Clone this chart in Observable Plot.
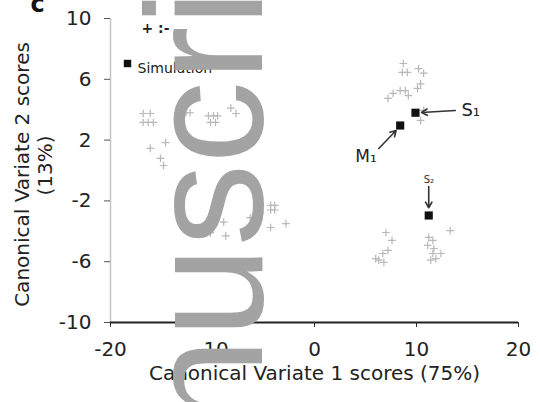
<!DOCTYPE html>
<html>
<head>
<meta charset="utf-8">
<script src="https://cdn.jsdelivr.net/npm/d3@7"></script>
<script src="https://cdn.jsdelivr.net/npm/@observablehq/plot@0.6"></script>
<style>
  html, body { margin: 0; padding: 0; background: #fff; }
  #wrap { position: relative; width: 540px; height: 402px; overflow: hidden; }
  #wm { position: absolute; left: 0; top: 0; pointer-events: none; }
</style>
</head>
<body>
<div id="wrap"></div>
<script>
// ---- data ----
const xTicks = [-20, -10, 0, 10, 20];
const yTicks = [10, 6, 2, -2, -6, -10];
const xLabel = "Canonical Variate 1 scores (75%)";
const yLabel1 = "Canonical Variate 2 scores";
const yLabel2 = "(13%)";
const panelLetter = "c";
const watermark = "manuscript";

// observed (faint grey) scores, per cluster: [CV1, CV2]
const clusterUpperLeft = [
  [-16.8, 3.75], [-16.1, 3.75], [-16.8, 3.16], [-16.3, 3.16], [-15.8, 3.16],
  [-12.6, 3.8], [-12.2, 3.8], [-10.4, 3.6], [-9.9, 3.6], [-9.5, 3.6],
  [-10.2, 3.16], [-9.7, 3.16], [-8.2, 4.1], [-7.7, 3.75],
  [-14.6, 1.84], [-16.1, 1.45], [-15.1, 0.8], [-14.8, 0.33]
];
const clusterLowerMiddle = [
  [-10.5, -3.8], [-10.2, -4.1], [-8.9, -3.4], [-8.7, -4.3], [-6.3, -3.1],
  [-5.8, -3.2], [-6.5, -3.75], [-4.3, -2.3], [-3.9, -2.3], [-4.3, -2.6],
  [-3.9, -2.6], [-4.3, -3.75], [-2.8, -3.5]
];
const clusterUpperRight = [
  [8.7, 7.04], [8.6, 6.45], [9.1, 6.45], [10.2, 6.7], [10.7, 6.4], [10.4, 5.7],
  [8.4, 5.26], [8.9, 5.26], [7.7, 5.07], [10.1, 5.4], [9.2, 4.93], [7.2, 4.74],
  [10.7, 3.95], [10.4, 3.3]
];
const clusterLowerRightA = [
  [7.0, -4.08], [7.6, -4.6], [7.2, -5.26], [6.7, -5.46], [6.0, -5.8], [6.3, -5.9], [6.8, -6.05]
];
const clusterLowerRightB = [
  [13.3, -3.95], [11.2, -4.4], [11.6, -4.6], [11.1, -4.93], [11.7, -5.13],
  [11.6, -5.46], [11.9, -5.8], [11.4, -5.9], [12.4, -5.46]
];

// simulation means (black squares)
const simX = [9.9, 8.4, 11.2];
const simY = [3.8, 2.96, -2.96];

// annotation labels and arrows
const annText = ["S\u2081", "M\u2081", "S\u2082"];
const annX = [14.4, 4.0, 10.7];
const annY = [3.95, 0.92, -0.62];
const arrX1 = [13.8, 6.3, 11.2];
const arrY1 = [3.95, 1.45, -1.05];
const arrX2 = [10.5, 8.0, 11.2];
const arrY2 = [3.82, 2.63, -2.45];

// legend
const legendSim = "Simulation";
const legendObs = "+ :-";

// ---- tables built from the arrays ----
const obs = [clusterUpperLeft, clusterLowerMiddle, clusterUpperRight, clusterLowerRightA, clusterLowerRightB]
  .flatMap((c, g) => c.map(([x, y]) => ({x, y, g})));
const sims = simX.map((x, i) => ({x, y: simY[i]}));
const anns = annText.map((t, i) => ({t, x: annX[i], y: annY[i]}));
const arrows = arrX1.map((x1, i) => ({x1, y1: arrY1[i], x2: arrX2[i], y2: arrY2[i]}));

const font = "DejaVu Sans, Verdana, sans-serif";
const fmt = d => String(d);

const chart = Plot.plot({
  width: 540,
  height: 402,
  marginLeft: 110,
  marginRight: 22,
  marginTop: 18,
  marginBottom: 80,
  style: {fontFamily: font, fontSize: "20px", background: "#fff", color: "#222"},
  x: {domain: [-20, 20]},
  y: {domain: [-10, 10]},
  marks: [
    Plot.ruleX([-20], {stroke: "#c4c4c4", strokeWidth: 1.5}),
    Plot.axisY({ticks: yTicks, tickFormat: fmt, tickSize: 6, tickPadding: 13, label: null, stroke: "#555", fill: "#222", fontSize: 20}),
    Plot.axisX({ticks: xTicks, tickFormat: fmt, tickSize: 5, tickPadding: 14, label: null, stroke: "#333", fill: "#222", fontSize: 20}),
    Plot.ruleY([-10], {stroke: "#222", strokeWidth: 2}),
    Plot.dot(obs, {x: "x", y: "y", symbol: "plus", r: 2.6, stroke: "#b8b8b8", strokeWidth: 1.2}),
    Plot.arrow(arrows, {x1: "x1", y1: "y1", x2: "x2", y2: "y2", stroke: "#333", strokeWidth: 1.6, headLength: 6}),
    Plot.dot(sims, {x: "x", y: "y", symbol: "square", r: 4.6, fill: "#111", stroke: "none"}),
    Plot.text([anns[0]], {x: "x", y: "y", text: "t", textAnchor: "start", fontSize: 18, fill: "#222"}),
    Plot.text([anns[1]], {x: "x", y: "y", text: "t", textAnchor: "start", fontSize: 17, fill: "#222"}),
    Plot.text([anns[2]], {x: "x", y: "y", text: "t", textAnchor: "start", fontSize: 10, fill: "#333"}),
    // legend
    Plot.dot([legendSim], {frameAnchor: "top-left", dx: 17, dy: 45, symbol: "square", r: 4.2, fill: "#111", stroke: "none"}),
    Plot.text([legendSim], {text: d => d, frameAnchor: "top-left", dx: 27, dy: 45, textAnchor: "start", fontSize: 14, fill: "#222"}),
    Plot.text([legendObs], {text: d => d, frameAnchor: "top-left", dx: 31, dy: 5, textAnchor: "start", fontSize: 14, fontWeight: "bold", fill: "#222"}),
    // axis titles
    Plot.text([xLabel], {text: d => d, frameAnchor: "bottom", dy: 57, textAnchor: "middle", fontSize: 20, fill: "#222"}),
    Plot.text([yLabel1], {text: d => d, frameAnchor: "left", dx: -88, dy: 4, rotate: -90, textAnchor: "middle", fontSize: 20, fill: "#222"}),
    Plot.text([yLabel2], {text: d => d, frameAnchor: "left", dx: -65, dy: -5, rotate: -90, textAnchor: "middle", fontSize: 20, fill: "#222"}),
    // panel letter (cut by the top edge in the reference)
    Plot.text([panelLetter], {text: d => d, frameAnchor: "top-left", dx: -80, dy: -24, textAnchor: "start", fontSize: 24, fontWeight: "bold", fill: "#111"})
  ]
});

const wrap = document.getElementById("wrap");
wrap.appendChild(chart);

// watermark overlay (text, rotated to read bottom to top)
const ns = "http://www.w3.org/2000/svg";
const wm = document.createElementNS(ns, "svg");
wm.setAttribute("id", "wm");
wm.setAttribute("width", 540);
wm.setAttribute("height", 402);
const t = document.createElementNS(ns, "text");
t.setAttribute("transform", "translate(262,659) rotate(-90)");
t.setAttribute("font-family", "Liberation Sans, Arial, sans-serif");
t.setAttribute("font-size", 165);
t.setAttribute("fill", "#a3a3a3");
t.textContent = watermark;
wm.appendChild(t);
wrap.appendChild(wm);
</script>
</body>
</html>
